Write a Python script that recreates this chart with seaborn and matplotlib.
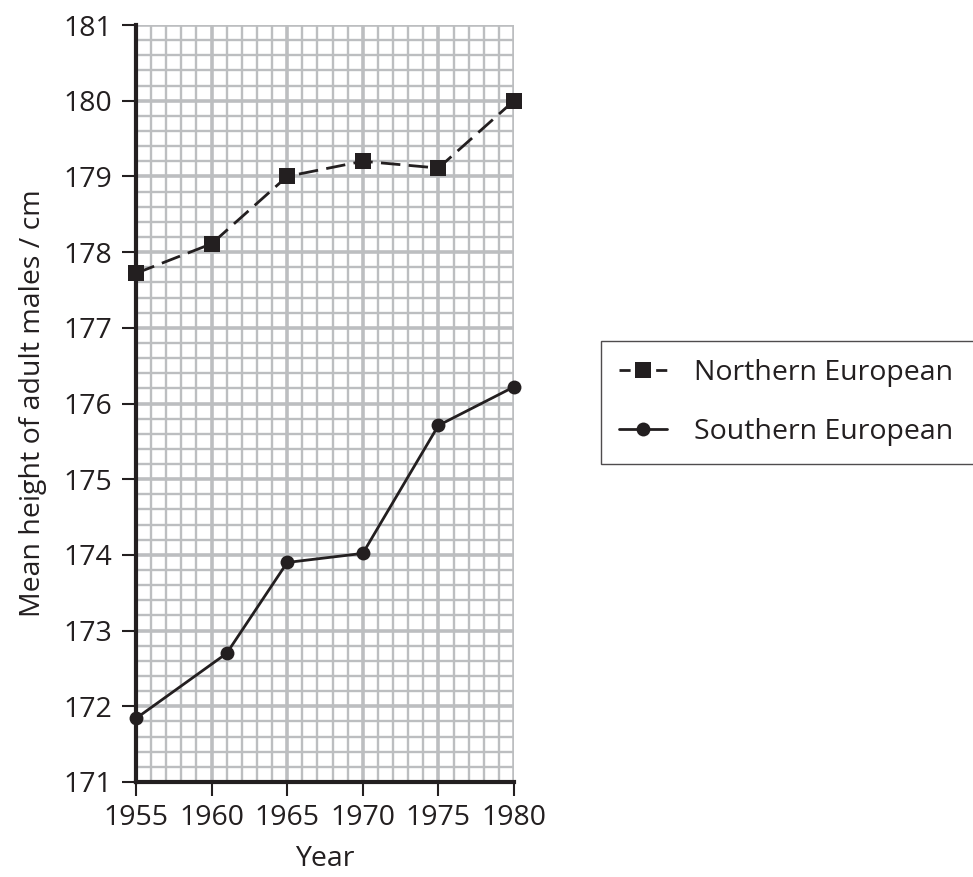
import pandas as pd
import numpy as np
import matplotlib
matplotlib.use("Agg")
import matplotlib.pyplot as plt
from matplotlib.ticker import MultipleLocator
import seaborn as sns

# valores
north_years = [1955, 1960, 1965, 1970, 1975, 1980]
north_height = [177.72, 178.11, 179.0, 179.2, 179.11, 180.0]
south_years = [1955, 1961, 1965, 1970, 1975, 1980]
south_height = [171.84, 172.7, 173.9, 174.02, 175.71, 176.22]
series_names = ["Northern European", "Southern European"]

df = pd.concat([
    pd.DataFrame({"Year": north_years, "Height": north_height, "Region": series_names[0]}),
    pd.DataFrame({"Year": south_years, "Height": south_height, "Region": series_names[1]}),
], ignore_index=True)

sns.set_style("white")
plt.rcParams["font.family"] = ["Open Sans", "DejaVu Sans"]
ink = "#231f20"
grid_col = "#bcbec0"
fs = 20.5

fig = plt.figure(figsize=(9.73, 8.77), dpi=100)
ax = fig.add_axes([136 / 973, 1 - 782 / 877, 378 / 973, 757 / 877])

sns.lineplot(data=df, x="Year", y="Height", style="Region", ax=ax,
             markers={series_names[0]: "s", series_names[1]: "o"},
             dashes={series_names[0]: (7, 3), series_names[1]: ""},
             color=ink, linewidth=2.0, markersize=11, markeredgewidth=0,
             clip_on=False, zorder=5)

# circulos un poco mas pequeños que los cuadrados
for ln in ax.lines:
    if ln.get_marker() == "o":
        ln.set_markersize(10)

ax.set_xlim(1955, 1980)
ax.set_ylim(171, 181)
ax.set_xticks(range(1955, 1981, 5))
ax.set_yticks(range(171, 182))
ax.xaxis.set_minor_locator(MultipleLocator(1))
ax.yaxis.set_minor_locator(MultipleLocator(0.2))
ax.set_axisbelow(True)
ax.grid(which="major", color=grid_col, linewidth=2.6)
ax.grid(which="minor", color=grid_col, linewidth=1.7)

for s in ["top", "right"]:
    ax.spines[s].set_visible(False)
for s in ["left", "bottom"]:
    ax.spines[s].set_color(ink)
    ax.spines[s].set_linewidth(3.0)
    ax.spines[s].set_zorder(6)

ax.tick_params(which="major", direction="out", length=10, width=1.5, color=ink,
               labelsize=fs, labelcolor=ink)
ax.tick_params(axis="x", pad=6, bottom=True)
ax.tick_params(axis="y", pad=7, left=True)
ax.tick_params(which="minor", length=0)

ax.set_xlabel("Year", fontsize=fs, color=ink, labelpad=9)
ax.set_ylabel("Mean height of adult males / cm", fontsize=fs, color=ink, labelpad=12)

handles, labels = ax.get_legend_handles_labels()
ax.get_legend().remove()
leg = fig.legend(handles, labels, loc="upper left",
                 bbox_to_anchor=(601 / 973, 1 - 466 / 877, 380 / 973, 125 / 877),
                 mode="expand", borderaxespad=0, fontsize=fs, frameon=True,
                 fancybox=False, edgecolor=ink, labelspacing=1.1, borderpad=0.62,
                 handlelength=1.7, handletextpad=0.95, labelcolor=ink)
leg.get_frame().set_linewidth(1.0)
leg.get_lines()[0].set_linestyle((0, (4.0, 2.6)))

fig.savefig("out.png", dpi=100)
